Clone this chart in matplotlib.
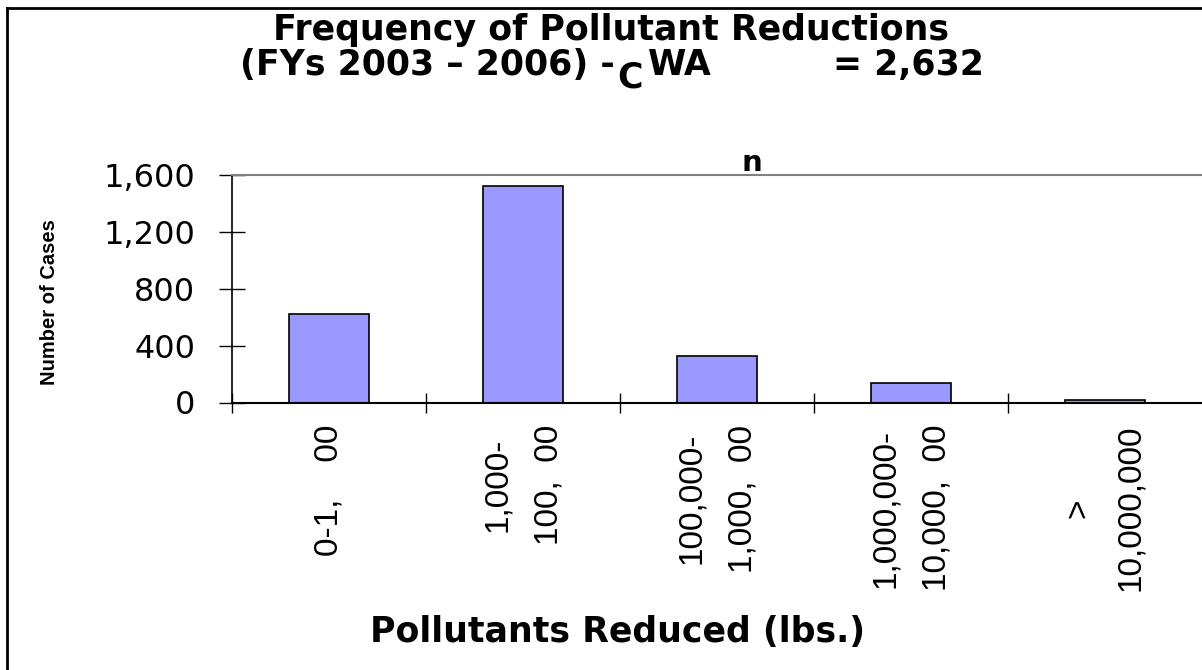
import matplotlib.pyplot as plt
from matplotlib.lines import Line2D

# --- data ---
categories = ["0-1,    00", "1,000-\n100,  00", "100,000-\n1,000,  00",
              "1,000,000-\n10,000,  00", ">\n10,000,000"]
cases = [624, 1520, 330, 140, 18]
y_ticks = [0, 400, 800, 1200, 1600]
y_tick_labels = ["0", "400", "800", "1,200", "1,600"]

W, H = 1202, 670
fig = plt.figure(figsize=(W / 100, H / 100), dpi=100)
fig.patch.set_facecolor("white")

def fx(px):
    return px / W

def fy(py):
    return 1 - py / H

ax = fig.add_axes([fx(232), fy(402.5), 1 - fx(232), fy(175) - fy(402.5)])

x = list(range(len(categories)))
ax.bar(x, cases, width=0.41, color="#9999ff", edgecolor="black", linewidth=1.2, zorder=2)

ax.set_xlim(-0.5, len(categories) - 0.5)
ax.set_ylim(0, 1600)

# y axis
ax.set_yticks(y_ticks)
ax.set_yticklabels(y_tick_labels, family="DejaVu Sans", fontsize=23)
ax.tick_params(axis="y", direction="inout", length=19, width=1, color="black", pad=17)

# x axis: labels at the centers, tick marks between categories
ax.set_xticks(x)
ax.set_xticklabels(categories, rotation=90, fontfamily=["Liberation Sans", "DejaVu Sans"],
                   fontsize=24, va="top", ha="center", multialignment="center",
                   linespacing=1.85)
ax.tick_params(axis="x", which="major", length=0, pad=16)
ax.set_xticks([i - 0.5 for i in range(len(categories))], minor=True)
ax.tick_params(axis="x", which="minor", direction="inout", length=15, width=1, color="black")

ax.spines["right"].set_visible(False)
ax.spines["top"].set_color("#808080")
ax.spines["top"].set_linewidth(1.5)
ax.spines["left"].set_linewidth(1.2)
ax.spines["bottom"].set_linewidth(1.5)

# titles and labels
title_kw = dict(fontsize=25, fontweight="bold", family="DejaVu Sans", va="center")
fig.text(fx(611), fy(30), "Frequency of Pollutant Reductions", ha="center", **title_kw)
fig.text(fx(240), fy(65), "(FYs 2003 \u2013 2006) -", ha="left", **title_kw)
fig.text(fx(630), fy(77), "C", ha="center", **title_kw)
fig.text(fx(648), fy(65), "WA", ha="left", **title_kw)
fig.text(fx(984), fy(65), "= 2,632", ha="right", **title_kw)
fig.text(fx(752), fy(163), "n", ha="center", va="center",
         fontsize=21, fontweight="bold", family="DejaVu Sans")

fig.text(fx(50), fy(302), "Number of Cases", rotation=90, ha="center", va="center",
         fontsize=14.5, fontweight="bold", family="Liberation Sans")
fig.text(fx(618), fy(632), "Pollutants Reduced (lbs.)", ha="center", va="center",
         fontsize=25, fontweight="bold", family="DejaVu Sans")

# frame around the chart (only left and top edges show)
fig.add_artist(Line2D([fx(7), fx(7)], [fy(8), 0], color="black", linewidth=2))
fig.add_artist(Line2D([fx(7), 1], [fy(8), fy(8)], color="black", linewidth=2))

fig.savefig("out.png", dpi=100)
